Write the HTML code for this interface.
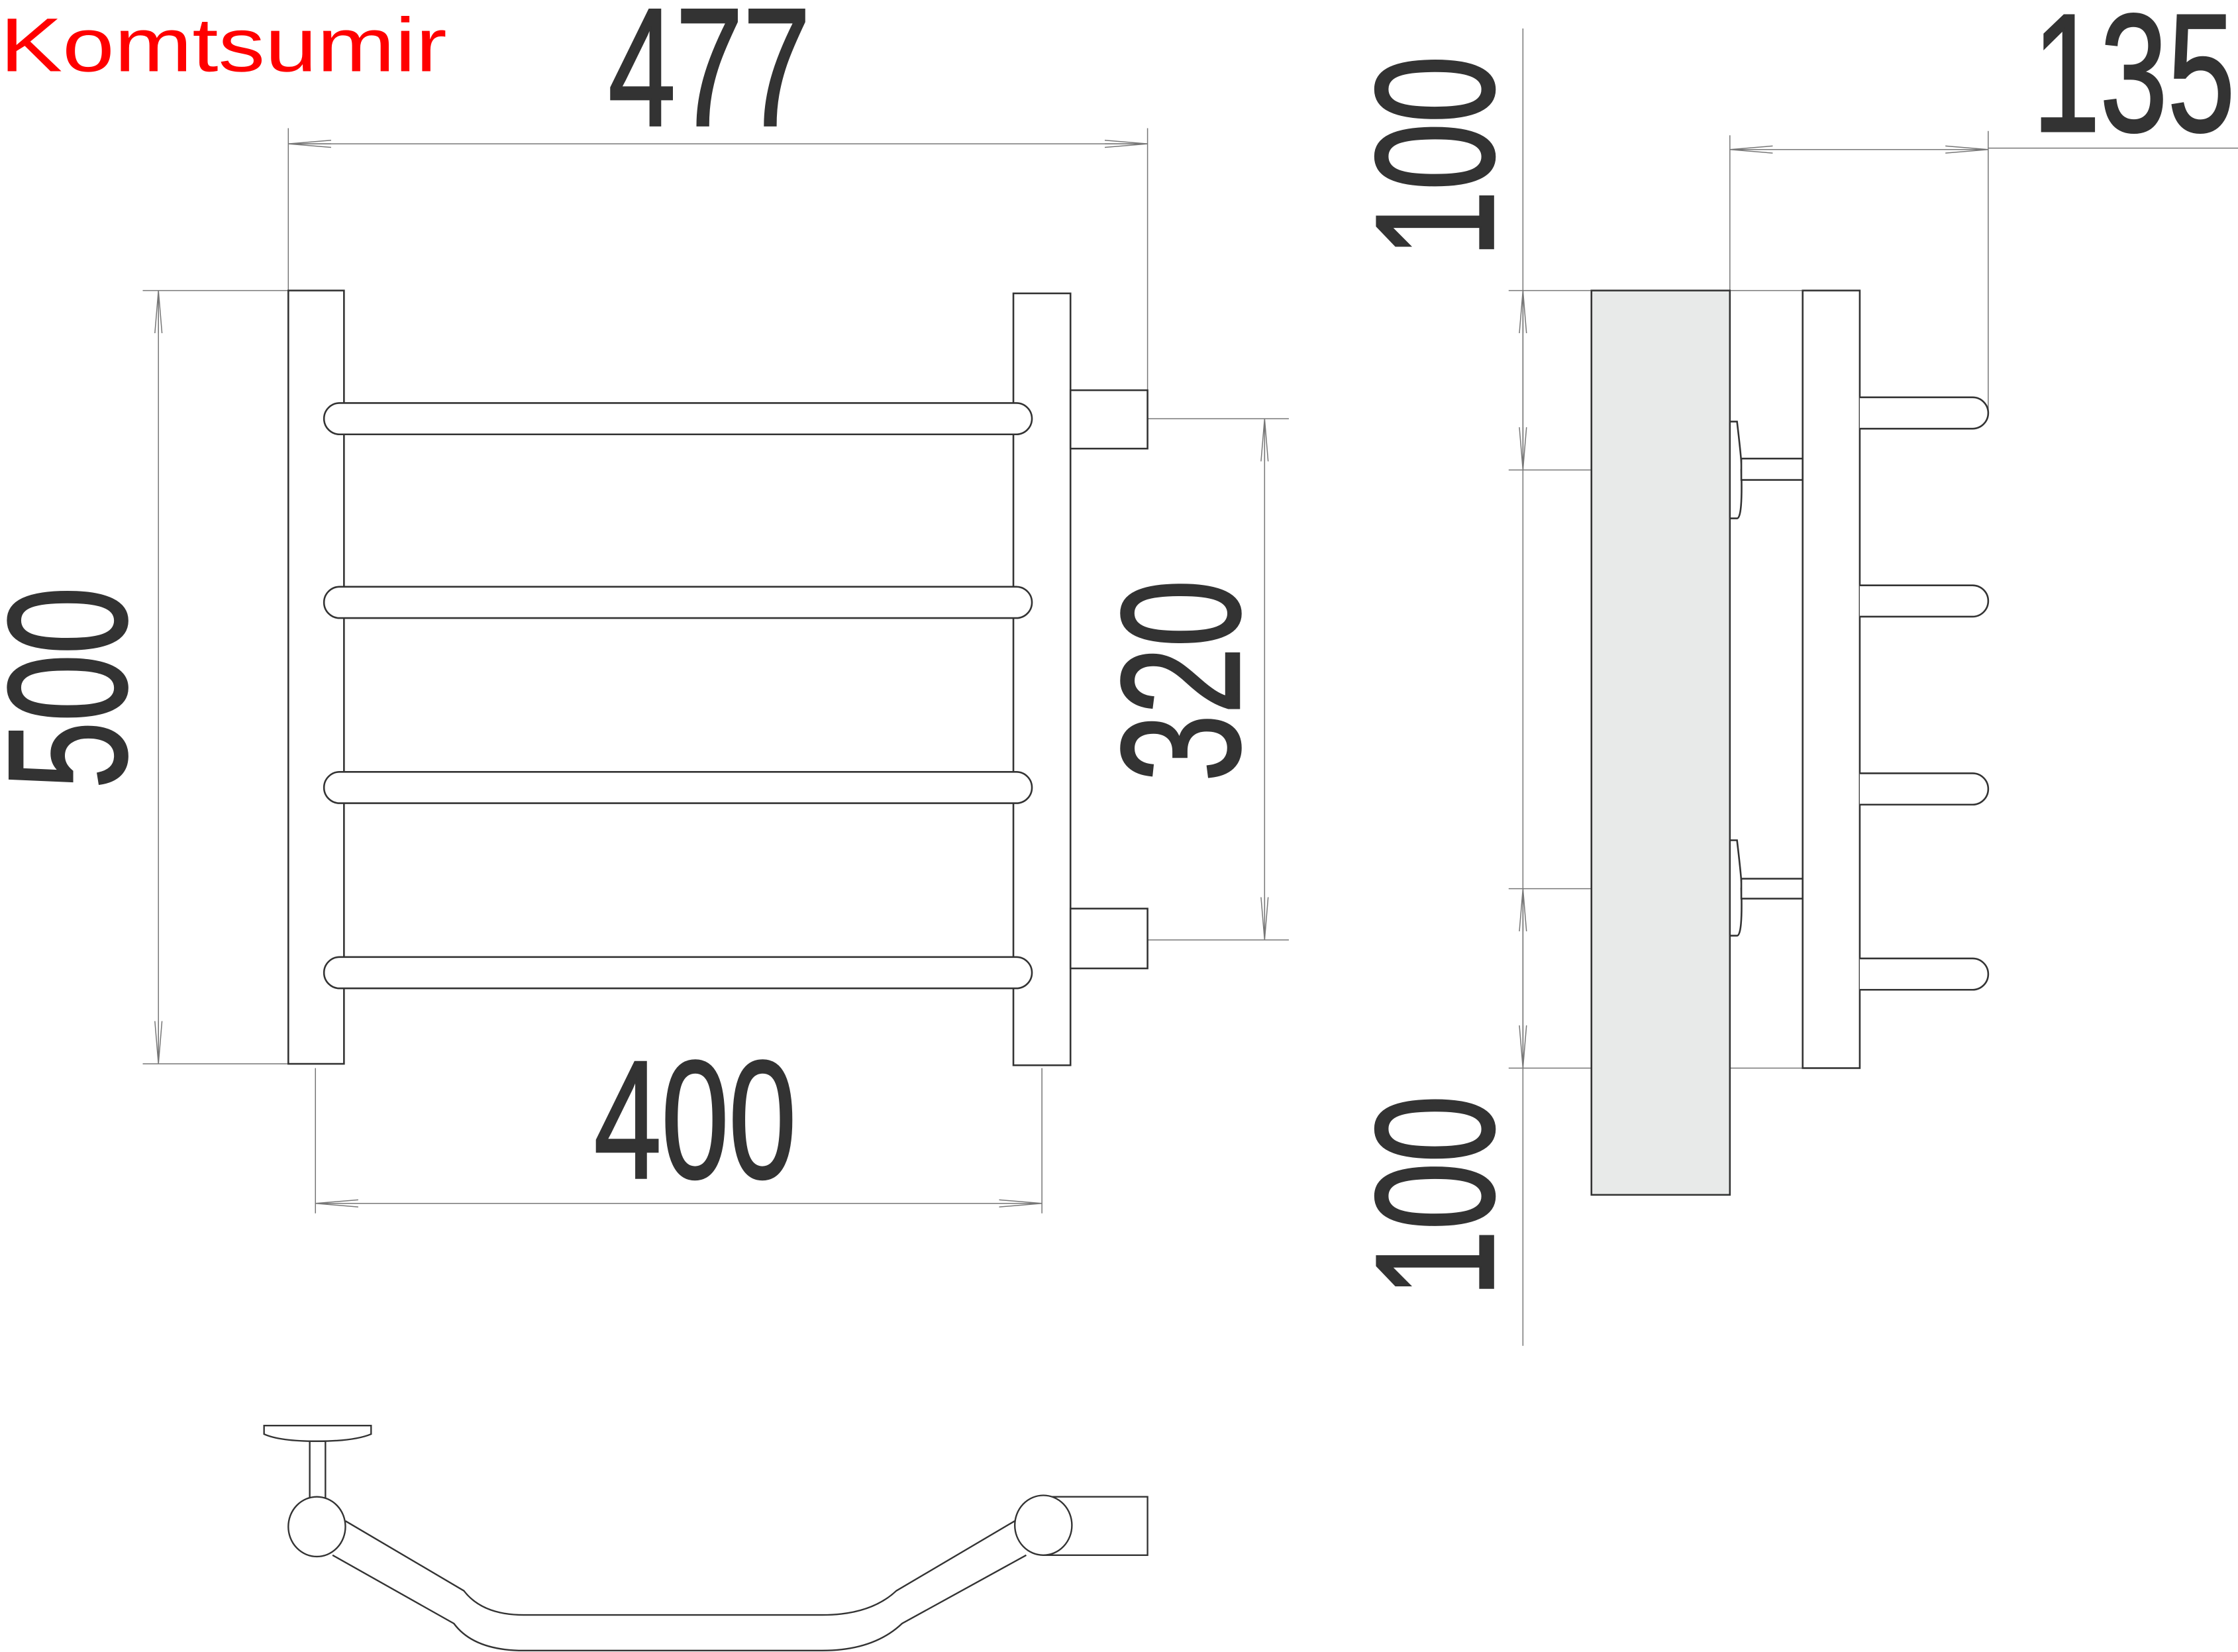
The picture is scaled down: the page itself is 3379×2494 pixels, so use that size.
<!DOCTYPE html>
<html><head><meta charset="utf-8"><style>
html,body{margin:0;padding:0;background:#fff;}
svg{display:block;}
</style></head><body>
<svg width="3379" height="2494" viewBox="0 0 1568 1160" preserveAspectRatio="none" xmlns="http://www.w3.org/2000/svg">
<defs>
<marker id="a" viewBox="0 0 30 6" refX="30" refY="3" markerWidth="30" markerHeight="6" markerUnits="userSpaceOnUse" orient="auto-start-reverse">
<path d="M30,3 L0,0.5 M30,3 L0,5.5 M30,3 L0,3" stroke="#777" stroke-width="0.7" fill="none"/>
</marker>
</defs>
<text transform="translate(0,50) scale(1.26,1.03)" font-family="Liberation Sans, sans-serif" font-size="52" fill="#ff0000">Komtsumir</text>

<g font-family="Liberation Sans, sans-serif" font-size="118" fill="#333" stroke="#333" stroke-width="1.6" text-anchor="middle">
<text transform="translate(497,88) scale(0.72,1)">477</text>
<text transform="translate(1495,92) scale(0.72,1)">135</text>
<text transform="translate(487,827) scale(0.72,1)">400</text>
<text transform="translate(88,483) rotate(-90) scale(0.72,1)">500</text>
<text transform="translate(868,478) rotate(-90) scale(0.72,1)">320</text>
<text transform="translate(1046,110) rotate(-90) scale(0.72,1)">100</text>
<text transform="translate(1046,840) rotate(-90) scale(0.72,1)">100</text>
</g>

<!-- dimension lines -->
<g stroke="#777" stroke-width="0.7" fill="none">
<line x1="202" y1="90" x2="202" y2="204"/>
<line x1="804" y1="90" x2="804" y2="294"/>
<line x1="202" y1="101" x2="804" y2="101" marker-start="url(#a)" marker-end="url(#a)"/>
<line x1="100" y1="204" x2="202" y2="204"/>
<line x1="100" y1="747" x2="202" y2="747"/>
<line x1="111" y1="204" x2="111" y2="747" marker-start="url(#a)" marker-end="url(#a)"/>
<line x1="804" y1="294" x2="903" y2="294"/>
<line x1="804" y1="660" x2="903" y2="660"/>
<line x1="886" y1="294" x2="886" y2="660" marker-start="url(#a)" marker-end="url(#a)"/>
<line x1="221" y1="750" x2="221" y2="852"/>
<line x1="730" y1="750" x2="730" y2="852"/>
<line x1="221" y1="845" x2="730" y2="845" marker-start="url(#a)" marker-end="url(#a)"/>
<line x1="1067" y1="20" x2="1067" y2="945"/>
<line x1="1057" y1="204" x2="1263" y2="204"/>
<line x1="1057" y1="330" x2="1265" y2="330"/>
<line x1="1067" y1="204" x2="1067" y2="330" marker-start="url(#a)" marker-end="url(#a)"/>
<line x1="1057" y1="624" x2="1262" y2="624"/>
<line x1="1057" y1="750" x2="1263" y2="750"/>
<line x1="1067" y1="624" x2="1067" y2="750" marker-start="url(#a)" marker-end="url(#a)"/>
<line x1="1212" y1="95" x2="1212" y2="204"/>
<line x1="1393" y1="92" x2="1393" y2="290"/>
<line x1="1212" y1="105" x2="1393" y2="105" marker-start="url(#a)" marker-end="url(#a)"/>
<line x1="1393" y1="104" x2="1568" y2="104"/>
</g>

<!-- front view -->
<g stroke="#333" stroke-width="1.2" fill="#fff">
<rect x="202" y="204" width="39" height="543"/>
<rect x="710" y="206" width="40" height="542"/>
<rect x="750" y="274" width="54" height="41"/>
<rect x="750" y="638" width="54" height="42"/>
<rect x="227" y="283" width="496" height="22" rx="11"/>
<rect x="227" y="412" width="496" height="22" rx="11"/>
<rect x="227" y="542" width="496" height="22" rx="11"/>
<rect x="227" y="672" width="496" height="22" rx="11"/>
</g>

<!-- side view -->
<g stroke="#333" stroke-width="1.2">
<rect x="1115" y="204" width="97" height="635" fill="#e8eae9"/>
<g fill="#fff">
<path d="M1212,296 L1217,296 Q1221,330 1220,330 Q1221,364 1217,364 L1212,364 Z"/>
<rect x="1220" y="322" width="43" height="15"/>
<path d="M1212,590 L1217,590 Q1221,624 1220,624 Q1221,657 1217,657 L1212,657 Z"/>
<rect x="1220" y="617" width="43" height="14"/>
<rect x="1263" y="204" width="40" height="546"/>
<path d="M1303,279 L1382,279 A11,11 0 0 1 1382,301 L1303,301"/>
<path d="M1303,411 L1382,411 A11,11 0 0 1 1382,433 L1303,433"/>
<path d="M1303,543 L1382,543 A11,11 0 0 1 1382,565 L1303,565"/>
<path d="M1303,673 L1382,673 A11,11 0 0 1 1382,695 L1303,695"/>
</g>
</g>

<!-- bottom view -->
<g stroke="#333" stroke-width="1.1" fill="none">
<path d="M185,1001 L260,1001 L260,1007 Q248,1012 222,1012 Q196,1012 185,1007 Z" fill="#fff"/>
<rect x="217" y="1012" width="11" height="41" fill="#fff"/>
<path d="M242,1068 L325,1117 Q338,1134 367,1134 L576,1134 Q610,1134 628,1117 L711,1068"/>
<path d="M233,1092 L318,1140 Q332,1159 367,1159 L576,1159 Q612,1159 632,1140 L719,1092"/>
<rect x="731" y="1051" width="73" height="41" fill="#fff"/>
<ellipse cx="222" cy="1072" rx="20" ry="21" fill="#fff"/>
<ellipse cx="731" cy="1071" rx="20" ry="21" fill="#fff"/>
</g>
</svg>
</body></html>
